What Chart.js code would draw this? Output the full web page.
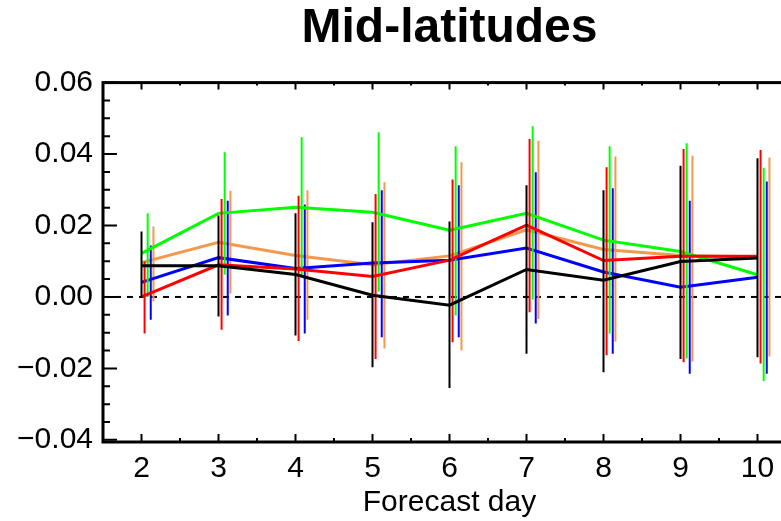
<!DOCTYPE html>
<html>
<head>
<meta charset="utf-8">
<script src="https://cdn.jsdelivr.net/npm/chart.js@4/dist/chart.umd.min.js"></script>
<style>
html, body { margin: 0; padding: 0; background: #fff; overflow: hidden; }
canvas { display: block; }
</style>
</head>
<body>
<canvas id="forecastChart" width="820" height="521"></canvas>
<script>
var days = [2, 3, 4, 5, 6, 7, 8, 9, 10];
var xTickLabels = [2, 3, 4, 5, 6, 7, 8, 9, 10];
var yTickLabels = [-0.04, -0.02, 0.00, 0.02, 0.04, 0.06];

// mean values and error bar ends
var blackMean = [0.0087, 0.0087, 0.0063, 0.0005, -0.0023, 0.0077, 0.0047, 0.0099, 0.0109];
var blackHigh = [0.0183, 0.0228, 0.0234, 0.0209, 0.0211, 0.0313, 0.0299, 0.0367, 0.0388];
var blackLow  = [-0.0003, -0.0055, -0.0108, -0.0197, -0.0255, -0.0159, -0.0211, -0.0174, -0.0169];

var redMean = [0.0000, 0.0090, 0.0078, 0.0057, 0.0103, 0.0201, 0.0102, 0.0114, 0.0114];
var redHigh = [0.0099, 0.0274, 0.0283, 0.0288, 0.0329, 0.0442, 0.0363, 0.0414, 0.0411];
var redLow  = [-0.0102, -0.0092, -0.0123, -0.0174, -0.0127, -0.0043, -0.0163, -0.0183, -0.0186];

var greenMean = [0.0122, 0.0234, 0.0251, 0.0237, 0.0187, 0.0234, 0.0159, 0.0127, 0.0062];
var greenHigh = [0.0234, 0.0405, 0.0447, 0.0461, 0.0422, 0.0478, 0.0422, 0.0430, 0.0362];
var greenLow  = [0.0000, 0.0062, 0.0060, 0.0015, -0.0052, -0.0007, -0.0102, -0.0172, -0.0235];

var blueMean = [0.0041, 0.0110, 0.0080, 0.0095, 0.0103, 0.0137, 0.0070, 0.0027, 0.0055];
var blueHigh = [0.0144, 0.0269, 0.0259, 0.0299, 0.0313, 0.0349, 0.0304, 0.0269, 0.0323];
var blueLow  = [-0.0064, -0.0052, -0.0102, -0.0113, -0.0113, -0.0074, -0.0159, -0.0215, -0.0215];

var orangeMean = [0.0096, 0.0153, 0.0116, 0.0090, 0.0115, 0.0188, 0.0133, 0.0116, 0.0112];
var orangeHigh = [0.0197, 0.0297, 0.0299, 0.0321, 0.0377, 0.0437, 0.0393, 0.0395, 0.0390];
var orangeLow  = [-0.0013, 0.0010, -0.0064, -0.0144, -0.0150, -0.0062, -0.0125, -0.0181, -0.0167];

var series = [
    { color: '#000000', mean: blackMean, high: blackHigh, low: blackLow, shift: 0 },
    { color: '#ff0000', mean: redMean, high: redHigh, low: redLow, shift: 0.04 },
    { color: '#00ff00', mean: greenMean, high: greenHigh, low: greenLow, shift: 0.08 },
    { color: '#0000ff', mean: blueMean, high: blueHigh, low: blueLow, shift: 0.12 },
    { color: '#f4994c', mean: orangeMean, high: orangeHigh, low: orangeLow, shift: 0.155 }
];

Chart.defaults.font.family = '"Liberation Sans", Arial, Helvetica, sans-serif';
Chart.defaults.color = '#000';

var datasets = [];
series.forEach(function (s) {
    var bars = [];
    for (var i = 0; i < days.length; i++) {
        bars.push({ x: days[i] + s.shift, y: s.low[i] });
        bars.push({ x: days[i] + s.shift, y: s.high[i] });
        bars.push({ x: days[i] + s.shift, y: null });
    }
    datasets.push({
        data: bars,
        borderColor: s.color,
        borderWidth: 2,
        pointRadius: 0,
        spanGaps: false
    });
    datasets.push({
        data: days.map(function (d, i) { return { x: d, y: s.mean[i] }; }),
        borderColor: s.color,
        borderWidth: 3,
        pointRadius: 0,
        tension: 0
    });
});

var framePlugin = {
    id: 'frame',
    beforeDatasetsDraw: function (chart) {
        var c = chart.ctx, a = chart.chartArea;
        var y0 = chart.scales.y.getPixelForValue(0);
        c.save();
        c.strokeStyle = '#000';
        c.lineWidth = 2;
        c.setLineDash([6, 6]);
        c.beginPath();
        c.moveTo(a.left, y0);
        c.lineTo(a.right, y0);
        c.stroke();
        c.restore();
    },
    afterDatasetsDraw: function (chart) {
        var c = chart.ctx, a = chart.chartArea;
        var xs = chart.scales.x, ys = chart.scales.y;
        c.save();
        c.strokeStyle = '#000';
        c.lineWidth = 2;
        c.beginPath();
        for (var i = -8; i <= 12; i++) {
            var py = ys.getPixelForValue(i * 0.005);
            var len = (i % 4 === 0) ? 14 : 7;
            c.moveTo(a.left, py);
            c.lineTo(a.left + len, py);
            c.moveTo(a.right, py);
            c.lineTo(a.right - len, py);
        }
        for (var j = 3; j <= 21; j++) {
            var px = xs.getPixelForValue(j / 2);
            var major = (j % 2 === 0);
            c.moveTo(px, a.bottom);
            c.lineTo(px, a.bottom - (major ? 8 : 4));
            c.moveTo(px, a.top);
            c.lineTo(px, a.top + (major ? 7 : 3));
        }
        c.stroke();
        c.lineWidth = 3;
        c.strokeRect(a.left, a.top, a.right - a.left, a.bottom - a.top);
        c.restore();
    }
};

var ctx = document.getElementById('forecastChart').getContext('2d');
var myChart = new Chart(ctx, {
    type: 'line',
    data: { datasets: datasets },
    options: {
        responsive: false,
        animation: false,
        layout: { padding: { left: 0, right: 24, top: 0, bottom: 0 } },
        plugins: {
            legend: { display: false },
            tooltip: { enabled: false },
            title: {
                display: true,
                text: 'Mid-latitudes',
                fullSize: false,
                font: { size: 48, weight: 'bold' },
                color: '#000',
                padding: { top: 0, bottom: 25 }
            }
        },
        scales: {
            x: {
                type: 'linear',
                min: 1.5,
                max: 10.5,
                grid: { display: false, drawTicks: false },
                border: { display: false },
                afterBuildTicks: function (scale) {
                    scale.ticks = xTickLabels.map(function (v) { return { value: v }; });
                },
                afterFit: function (scale) { scale.height = 79; },
                ticks: {
                    font: { size: 30 },
                    padding: 9,
                    maxRotation: 0,
                    callback: function (v) { return String(v); }
                },
                title: {
                    display: true,
                    text: 'Forecast day',
                    font: { size: 30 },
                    padding: { top: 0, bottom: 0 }
                }
            },
            y: {
                type: 'linear',
                min: -0.0406,
                max: 0.06,
                grid: { display: false, drawTicks: false },
                border: { display: false },
                afterBuildTicks: function (scale) {
                    scale.ticks = yTickLabels.map(function (v) { return { value: v }; });
                },
                afterFit: function (scale) { scale.width = 103; },
                ticks: {
                    font: { size: 30 },
                    padding: 10,
                    callback: function (v) {
                        return v < 0 ? '\u2212' + Math.abs(v).toFixed(2) : v.toFixed(2);
                    }
                }
            }
        }
    },
    plugins: [framePlugin]
});
</script>
</body>
</html>
